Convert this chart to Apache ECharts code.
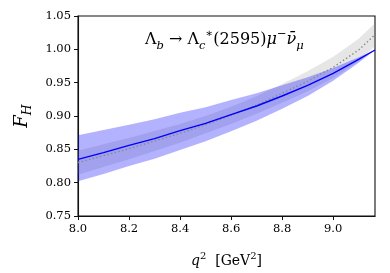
<!DOCTYPE html>
<html>
<head>
<meta charset="utf-8">
<script src="https://cdn.jsdelivr.net/npm/echarts@6/dist/echarts.min.js"></script>
<style>
html,body{margin:0;padding:0;background:#fff;}
#chart{width:390px;height:273px;}
</style>
</head>
<body>
<div id="chart"></div>
<script>
const xs = [8.0, 8.1, 8.2, 8.3, 8.4, 8.5, 8.6, 8.7, 8.8, 8.9, 9.0, 9.1, 9.164];
const central = [0.835, 0.845, 0.856, 0.866, 0.878, 0.889, 0.902, 0.915, 0.930, 0.946, 0.964, 0.985, 0.999];
const blueUpper = [0.871, 0.879, 0.887, 0.895, 0.905, 0.913, 0.924, 0.934, 0.946, 0.958, 0.972, 0.988, 0.999];
const blueLower = [0.802, 0.813, 0.825, 0.836, 0.849, 0.862, 0.877, 0.893, 0.911, 0.930, 0.953, 0.980, 0.999];
const dotted = [0.830, 0.8405, 0.851, 0.8625, 0.874, 0.887, 0.901, 0.9165, 0.934, 0.952, 0.973, 0.999, 1.022];
const greyUpper = [0.848, 0.8575, 0.867, 0.8775, 0.888, 0.900, 0.914, 0.9295, 0.948, 0.967, 0.989, 1.016, 1.039];
const greyLower = [0.812, 0.8235, 0.835, 0.8475, 0.860, 0.874, 0.888, 0.9035, 0.920, 0.937, 0.957, 0.982, 1.005];
const xTicks = [8.0, 8.2, 8.4, 8.6, 8.8, 9.0];
const yTicks = [0.75, 0.80, 0.85, 0.90, 0.95, 1.00, 1.05];

const serif = "'DejaVu Serif', serif";
const pairs = arr => xs.map((x, i) => [x, arr[i]]);

function bandSeries(name, upper, lower, fill) {
  return {
    name, type: 'custom', silent: true, z: 2,
    data: [[xs[0], lower[0]]],
    encode: {x: 0, y: 1},
    renderItem: (params, api) => {
      const pts = [];
      for (let i = 0; i < xs.length; i++) pts.push(api.coord([xs[i], upper[i]]));
      for (let i = xs.length - 1; i >= 0; i--) pts.push(api.coord([xs[i], lower[i]]));
      return {type: 'polygon', shape: {points: pts}, style: {fill: fill, stroke: null}};
    }
  };
}

const chart = echarts.init(document.getElementById('chart'), null, {renderer: 'canvas'});
chart.setOption({
  animation: false,
  grid: {left: 78, right: 15, top: 16, bottom: 55, show: true, borderColor: '#111', borderWidth: 1.1, backgroundColor: 'transparent'},
  xAxis: {
    type: 'value', min: 8.0, max: 9.164, interval: 0.2,
    name: '{q|q}{p|2}{r|  [GeV}{p|2}{r|]}',
    nameLocation: 'middle', nameGap: 35,
    nameTextStyle: {
      color: '#000',
      rich: {
        q: {fontFamily: serif, fontStyle: 'italic', fontSize: 14, lineHeight: 20, color: '#000'},
        r: {fontFamily: serif, fontSize: 14, lineHeight: 20, color: '#000'},
        p: {fontFamily: serif, fontSize: 10, lineHeight: 12, verticalAlign: 'top', color: '#000'}
      }
    },
    axisLine: {show: true, lineStyle: {color: '#111', width: 1.1}},
    axisTick: {show: true, inside: false, length: 4, lineStyle: {color: '#111', width: 1}, customValues: xTicks},
    axisLabel: {color: '#000', fontFamily: serif, fontSize: 11.5, margin: 7, customValues: xTicks,
      formatter: v => v.toFixed(1)},
    splitLine: {show: false}
  },
  yAxis: {
    type: 'value', min: 0.75, max: 1.05, interval: 0.05,
    name: '{f|F}{s|H}',
    nameLocation: 'middle', nameGap: 37, nameRotate: 90,
    nameTextStyle: {
      rich: {
        f: {fontFamily: serif, fontStyle: 'italic', fontSize: 18, lineHeight: 24, color: '#000'},
        s: {fontFamily: serif, fontStyle: 'italic', fontSize: 12.5, lineHeight: 12, verticalAlign: 'bottom', color: '#000'}
      }
    },
    axisLine: {show: true, lineStyle: {color: '#111', width: 1.1}},
    axisTick: {show: true, inside: false, length: 4, lineStyle: {color: '#111', width: 1}, customValues: yTicks},
    axisLabel: {color: '#000', fontFamily: serif, fontSize: 11.5, margin: 7, customValues: yTicks,
      formatter: v => v.toFixed(2)},
    splitLine: {show: false}
  },
  graphic: [{
    type: 'text', left: 145, top: 28, z: 100,
    style: {
      text: '{m|Λ}{b|b}{m| → Λ}{b|c}{t|∗}{m|(2595)}{i|μ}{t|−}{i|ν̄}{b|μ}',
      fill: '#000',
      rich: {
        m: {fontFamily: serif, fontSize: 16, lineHeight: 24, fill: '#000'},
        i: {fontFamily: serif, fontStyle: 'italic', fontSize: 16, lineHeight: 24, fill: '#000'},
        b: {fontFamily: serif, fontStyle: 'italic', fontSize: 11.5, lineHeight: 13, verticalAlign: 'bottom', fill: '#000'},
        t: {fontFamily: serif, fontSize: 11.5, lineHeight: 13, verticalAlign: 'top', fill: '#000'}
      }
    }
  }],
  series: [
    bandSeries('greyBand', greyUpper, greyLower, 'rgba(128,128,128,0.2)'),
    bandSeries('blueBand', blueUpper, blueLower, 'rgba(0,0,255,0.3)'),
    {name: 'dotted', type: 'line', data: pairs(dotted), smooth: false, symbol: 'none', z: 3,
      lineStyle: {color: '#888', width: 1.4, type: [1.4, 2.4]}},
    {name: 'central', type: 'line', data: pairs(central), smooth: false, symbol: 'none', z: 4,
      lineStyle: {color: '#0000ff', width: 1.4}}
  ]
});
</script>
</body>
</html>
